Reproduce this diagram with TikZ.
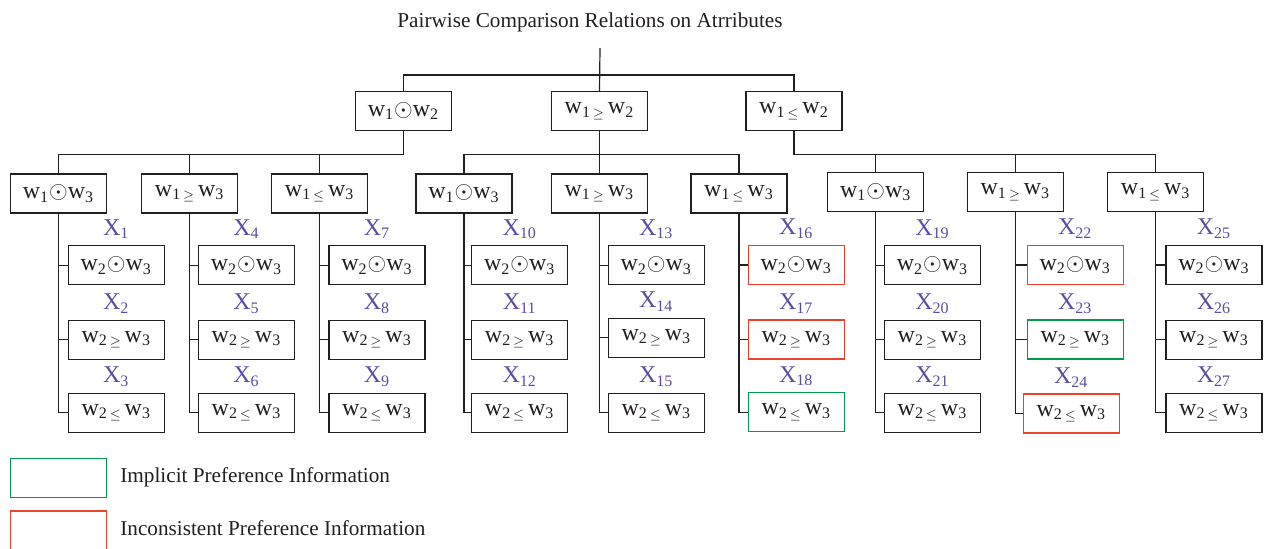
\documentclass[tikz,border=0pt]{standalone}
\usepackage{fontspec}
\setmainfont{Liberation Serif}
\definecolor{linec}{RGB}{35,31,32}
\definecolor{xc}{RGB}{88,78,165}
\definecolor{implc}{RGB}{0,155,75}
\definecolor{inconc}{RGB}{235,65,45}
\newcommand{\relOd}[2]{w\textsubscript{#1}$\odot$w\textsubscript{#2}}
\newcommand{\relGe}[2]{w\textsubscript{#1\,$\scriptstyle\geq$\,}w\textsubscript{#2}}
\newcommand{\relLe}[2]{w\textsubscript{#1\,$\scriptstyle\leq$\,}w\textsubscript{#2}}
\begin{document}
\begin{tikzpicture}[x=0.5pt,y=-0.5pt,
  every node/.style={font=\fontsize{10.6}{12.5}\selectfont, text=linec},
  box/.style={draw=linec, line width=0.6pt, minimum width=48pt, minimum height=19.5pt, inner sep=0pt, font=\fontsize{12}{14}\selectfont},
  impl/.style={draw=implc},
  incon/.style={draw=inconc},
  xlab/.style={anchor=base, inner sep=0pt, text=xc, font=\fontsize{12}{14}\selectfont},
  conn/.style={draw=linec, line width=0.6pt}]
\useasboundingbox (0,0) rectangle (1264,548);

% title
\node[anchor=base, inner sep=0pt] (title) at (590,27) {Pairwise Comparison Relations on Atrributes};
\coordinate (root) at (600,48);
\coordinate (lvl1) at (0,75);
\coordinate (lvl2) at (0,154.7);

% level 1
\node[box] (A) at (403.5,110.9) {\relOd{1}{2}};
\node[box] (B) at (599.5,110.9) {\relGe{1}{2}};
\node[box] (C) at (794,110.9) {\relLe{1}{2}};

% level 2
\node[box] (A1) at (58.5,193.5) {\relOd{1}{3}};
\node[box] (A2) at (189.7,193.5) {\relGe{1}{3}};
\node[box] (A3) at (319.7,193.5) {\relLe{1}{3}};
\node[box] (B1) at (464,193.5) {\relOd{1}{3}};
\node[box] (B2) at (599.3,193.5) {\relGe{1}{3}};
\node[box] (B3) at (739,193.5) {\relLe{1}{3}};
\node[box] (C1) at (875.7,192.2) {\relOd{1}{3}};
\node[box] (C2) at (1015.3,192.2) {\relGe{1}{3}};
\node[box] (C3) at (1155.7,192.2) {\relLe{1}{3}};

% leaves
\node[box] (L1a) at (116.3,265.3) {\relOd{2}{3}};
\node[box] (L1b) at (116.3,339.8) {\relGe{2}{3}};
\node[box] (L1c) at (116.3,412.7) {\relLe{2}{3}};
\node[box] (L2a) at (246.5,265.3) {\relOd{2}{3}};
\node[box] (L2b) at (246.5,339.8) {\relGe{2}{3}};
\node[box] (L2c) at (246.5,412.7) {\relLe{2}{3}};
\node[box] (L3a) at (377,265.3) {\relOd{2}{3}};
\node[box] (L3b) at (377,339.8) {\relGe{2}{3}};
\node[box] (L3c) at (377,412.7) {\relLe{2}{3}};
\node[box] (L4a) at (519.7,265.3) {\relOd{2}{3}};
\node[box] (L4b) at (519.7,339.8) {\relGe{2}{3}};
\node[box] (L4c) at (519.7,412.7) {\relLe{2}{3}};
\node[box] (L5a) at (656.3,265.3) {\relOd{2}{3}};
\node[box] (L5b) at (656.3,337.8) {\relGe{2}{3}};
\node[box] (L5c) at (656.3,412.7) {\relLe{2}{3}};
\node[box,incon] (L6a) at (796.3,265) {\relOd{2}{3}};
\node[box,incon] (L6b) at (796.3,339.5) {\relGe{2}{3}};
\node[box,impl] (L6c) at (796.3,412.2) {\relLe{2}{3}};
\node[box] (L7a) at (932.5,265.3) {\relOd{2}{3}};
\node[box] (L7b) at (932.5,339.8) {\relGe{2}{3}};
\node[box] (L7c) at (932.5,412.7) {\relLe{2}{3}};
\node[box,incon] (L8a) at (1075.3,265) {\relOd{2}{3}};
\node[box,impl] (L8b) at (1075.3,339.5) {\relGe{2}{3}};
\node[box,incon] (L8c) at (1071.3,413.5) {\relLe{2}{3}};
\node[box] (L9a) at (1214,265) {\relOd{2}{3}};
\node[box] (L9b) at (1214,339.8) {\relGe{2}{3}};
\node[box] (L9c) at (1214,412.7) {\relLe{2}{3}};

% X labels
\foreach \n/\l in {1/L1a,2/L1b,3/L1c,4/L2a,5/L2b,6/L2c,7/L3a,8/L3b,9/L3c,
  10/L4a,11/L4b,12/L4c,13/L5a,14/L5b,15/L5c,16/L6a,17/L6b,18/L6c,
  19/L7a,20/L7b,21/L7c,22/L8a,23/L8b,24/L8c,25/L9a,26/L9b,27/L9c}
  \node[xlab] (X\n) at ([yshift=5pt]\l.north) {X\textsubscript{\n}};

% connectors level 0-1
\draw[conn] (root) -- (B.north);
\draw[conn] (A.north) |- (C.north |- lvl1) -- (C.north);

% connectors level 1-2
\draw[conn] (A1.north) |- (A.south |- lvl2) -- (A.south);
\draw[conn] (A2.north) -- (A2.north |- lvl2);
\draw[conn] (A3.north) -- (A3.north |- lvl2);
\draw[conn] (B1.north) |- (B3.north |- lvl2) -- (B3.north);
\draw[conn] (B.south) -- (B.south |- lvl2);
\draw[conn] (B2.north) -- (B2.north |- lvl2);
\draw[conn] (C.south) |- (C3.north |- lvl2) -- (C3.north);
\draw[conn] (C1.north) -- (C1.north |- lvl2);
\draw[conn] (C2.north) -- (C2.north |- lvl2);

% connectors level 2-leaves
\foreach \p/\g in {A1/1,A2/2,A3/3,B1/4,B2/5,B3/6,C1/7,C2/8,C3/9} {
  \draw[conn] (\p.south) |- (L\g c.west);
  \draw[conn] (L\g a.west) -- (L\g a.west -| \p.south);
  \draw[conn] (L\g b.west) -- (L\g b.west -| \p.south);
}

% legend
\node[box,impl] (legI) at (58.5,477.8) {};
\node[anchor=base west, inner sep=0pt] (legIt) at (120,482.6) {Implicit Preference Information};
\node[box,incon] (legN) at (58.5,530.5) {};
\node[anchor=base west, inner sep=0pt] (legNt) at (120,535) {Inconsistent Preference Information};
\end{tikzpicture}
\end{document}
